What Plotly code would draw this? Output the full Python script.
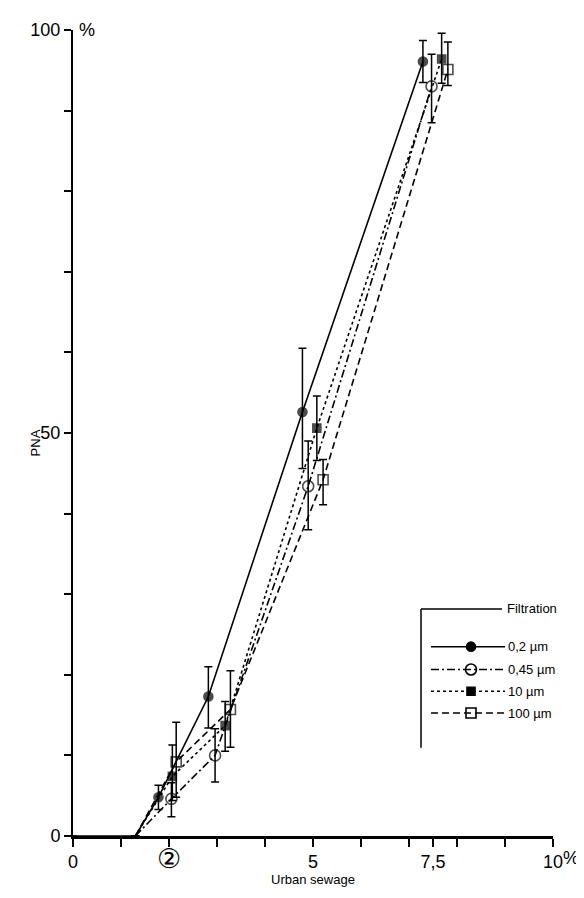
import plotly.graph_objects as go

# ---- data ----
labels = ["0,2 µm", "0,45 µm", "10 µm", "100 µm"]
x_02 = [0, 1.3, 1.78, 2.82, 4.78, 7.29]
y_02 = [0, 0, 4.8, 17.3, 52.6, 96.1]
up_02 = [0, 0, 1.5, 3.7, 7.9, 2.6]
dn_02 = [0, 0, 1.5, 3.9, 7.0, 2.6]

x_045 = [1.3, 2.05, 2.96, 4.90, 7.47]
y_045 = [0, 4.6, 10.0, 43.4, 93.0]
up_045 = [0, 2.0, 3.3, 5.6, 4.0]
dn_045 = [0, 2.2, 3.3, 5.4, 4.5]

x_10 = [1.3, 2.07, 3.17, 5.08, 7.68]
y_10 = [0, 7.4, 13.7, 50.6, 96.4]
up_10 = [0, 3.9, 3.0, 4.0, 3.2]
dn_10 = [0, 3.0, 3.2, 4.0, 3.0]

x_100 = [1.3, 2.15, 3.28, 5.21, 7.81]
y_100 = [0, 9.2, 15.7, 44.2, 95.1]
up_100 = [0, 4.9, 4.8, 2.5, 3.4]
dn_100 = [0, 4.4, 4.7, 3.1, 2.0]

x_tickvals = [0, 1, 2, 3, 4, 5, 6, 7, 7.5, 8, 9, 10]
x_ticktext = ["0", "", "<span style='font-size:27px'>②</span>", "", "", "5", "", "", "7,5", "", "", "10"]
y_tickvals = [0, 10, 20, 30, 40, 50, 60, 70, 80, 90, 100]
y_ticktext = ["0", "", "", "", "", "50", "", "", "", "", "100"]

FONT = "Liberation Sans"
K = "black"

series = [
    (x_02, y_02, up_02, dn_02, "solid", "circle", 9),
    (x_045, y_045, up_045, dn_045, "8px,3px,2px,3px", "circle-open", 11),
    (x_10, y_10, up_10, dn_10, "dot", "square", 8),
    (x_100, y_100, up_100, dn_100, "7px,4px", "square-open", 10),
]

fig = go.Figure()
for (xs, ys, up, dn, dash, sym, ms), name in zip(series, labels):
    sizes = [0 if v == 0 else ms for v in ys]
    fig.add_trace(go.Scatter(
        x=xs, y=ys, name=name, mode="lines+markers",
        line=dict(color=K, width=1.6, dash=dash),
        marker=dict(symbol=sym, size=sizes, color=K, line=dict(color=K, width=1.6)),
        error_y=dict(type="data", symmetric=False, array=up, arrayminus=dn,
                     color=K, thickness=1.5, width=4),
        showlegend=False, cliponaxis=False,
    ))

# ---- hand-drawn style legend (reference pixel -> data coords) ----
def dx(px):
    return (px - 73) / 48.0

def dy(py):
    return (836 - py) / 8.13

shapes = [
    dict(type="line", x0=dx(421), x1=dx(502), y0=dy(607), y1=dy(607), line=dict(color=K, width=1.5)),
    dict(type="line", x0=dx(421), x1=dx(421), y0=dy(607), y1=dy(747), line=dict(color=K, width=1.5)),
]
annotations = [
    dict(x=dx(505), y=dy(607), text="Filtration", showarrow=False, xanchor="left", yanchor="middle",
         font=dict(family=FONT, size=13, color=K)),
]
leg_y = [645, 668, 690, 712]
for (xs, ys, up, dn, dash, sym, ms), name, py in zip(series, labels, leg_y):
    shapes.append(dict(type="line", x0=dx(431), x1=dx(505), y0=dy(py), y1=dy(py),
                       line=dict(color=K, width=1.5, dash=dash)))
    annotations.append(dict(x=dx(506), y=dy(py), text=name, showarrow=False, xanchor="left",
                            yanchor="middle", font=dict(family=FONT, size=13, color=K)))
    fig.add_trace(go.Scatter(x=[dx(471)], y=[dy(py)], mode="markers", showlegend=False,
                             marker=dict(symbol=sym, size=ms, color=K, line=dict(color=K, width=1.6)),
                             hoverinfo="skip"))

annotations += [
    dict(x=0, y=100, xref="x", yref="y", text="%", showarrow=False, xanchor="left", yanchor="middle",
         xshift=4, font=dict(family=FONT, size=18, color=K)),
    dict(x=10, y=0, xref="x", yref="y", text="%", showarrow=False, xanchor="left", yanchor="top",
         xshift=8, yshift=-10, font=dict(family=FONT, size=18, color=K)),
    dict(x=(35 - 73) / 480.0, xref="paper", y=dy(440), yref="y", text="PNA", textangle=-90,
         showarrow=False, xanchor="center", yanchor="middle",
         font=dict(family=FONT, size=13, color=K)),
]

# the page body has an 8px margin, so the figure is sized and offset for it
fig.update_layout(
    width=576, height=890,
    margin=dict(l=65, r=31, t=15, b=62),
    paper_bgcolor="white", plot_bgcolor="white",
    shapes=shapes, annotations=annotations,
    xaxis=dict(range=[0, 10], tickvals=x_tickvals, ticktext=x_ticktext,
               showgrid=False, zeroline=False, showline=True, linecolor=K, linewidth=2.5,
               ticks="outside", ticklen=8, tickwidth=1.5, tickcolor=K,
               tickfont=dict(family=FONT, size=18, color=K),
               title=dict(text="Urban sewage", font=dict(family=FONT, size=13, color=K), standoff=2)),
    yaxis=dict(range=[0, 100], tickvals=y_tickvals, ticktext=y_ticktext,
               showgrid=False, zeroline=False, showline=True, linecolor=K, linewidth=2,
               ticks="outside", ticklen=7, tickwidth=1.5, tickcolor=K,
               tickfont=dict(family=FONT, size=18, color=K)),
)

fig.write_html("out.html")
